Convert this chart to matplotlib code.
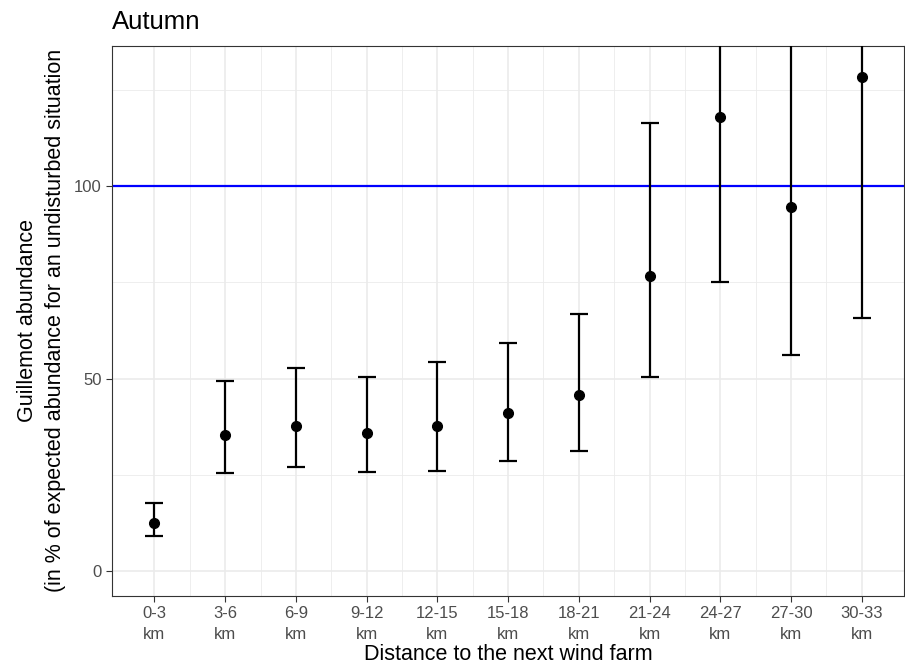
import numpy as np
import matplotlib.pyplot as plt

plt.rcParams['font.family'] = ['Liberation Sans', 'DejaVu Sans']

categories = ['0-3\nkm', '3-6\nkm', '6-9\nkm', '9-12\nkm', '12-15\nkm', '15-18\nkm',
              '18-21\nkm', '21-24\nkm', '24-27\nkm', '27-30\nkm', '30-33\nkm']
estimate = [12.6, 35.4, 37.6, 35.9, 37.6, 41.1, 45.7, 76.7, 117.9, 94.6, 128.4]
lower = [9.0, 25.4, 26.9, 25.6, 26.1, 28.5, 31.2, 50.4, 75.2, 56.2, 65.7]
upper = [17.7, 49.3, 52.7, 50.4, 54.4, 59.3, 66.9, 116.5, 160.0, 170.0, 175.0]
reference = 100

x = np.arange(1, len(categories) + 1)
est = np.array(estimate)
lo = np.array(lower)
hi = np.array(upper)

fig = plt.figure(figsize=(9.05, 6.67), dpi=100)
ax = fig.add_axes([0.1238, 0.1064, 0.8752, 0.8251])

# grid like theme_bw
for v in [25, 75, 125]:
    ax.axhline(v, color='#EBEBEB', lw=0.6, zorder=0)
for v in [0, 50, 100]:
    ax.axhline(v, color='#EBEBEB', lw=1.2, zorder=0)
for xi in x:
    ax.axvline(xi, color='#EBEBEB', lw=1.2, zorder=0)
for xi in x[:-1] + 0.5:
    ax.axvline(xi, color='#EBEBEB', lw=0.6, zorder=0)

ax.axhline(reference, color='#0000FF', lw=1.6, zorder=2)
ax.errorbar(x, est, yerr=[est - lo, hi - est], fmt='o', color='black',
            ms=7, lw=1.6, capsize=6.5, capthick=1.6, zorder=3)

ax.set_xlim(0.4, 11.6)
ax.set_ylim(-6.5, 136.5)
ax.set_xticks(x)
ax.set_xticklabels(categories, linespacing=1.5)
ax.set_yticks([0, 50, 100])
ax.tick_params(colors='#333333', labelcolor='#4D4D4D', labelsize=12,
               length=4, width=0.8)
for s in ax.spines.values():
    s.set_color('#333333')
    s.set_linewidth(0.8)

ax.set_xlabel('Distance to the next wind farm', fontsize=15.5, labelpad=1)
ax.set_ylabel('Guillemot abundance\n(in % of expected abundance for an undisturbed situation',
              fontsize=15.5, labelpad=6, linespacing=1.4)
ax.set_title('Autumn', loc='left', fontsize=18.5, pad=12)

plt.savefig('out.png', dpi=100)
